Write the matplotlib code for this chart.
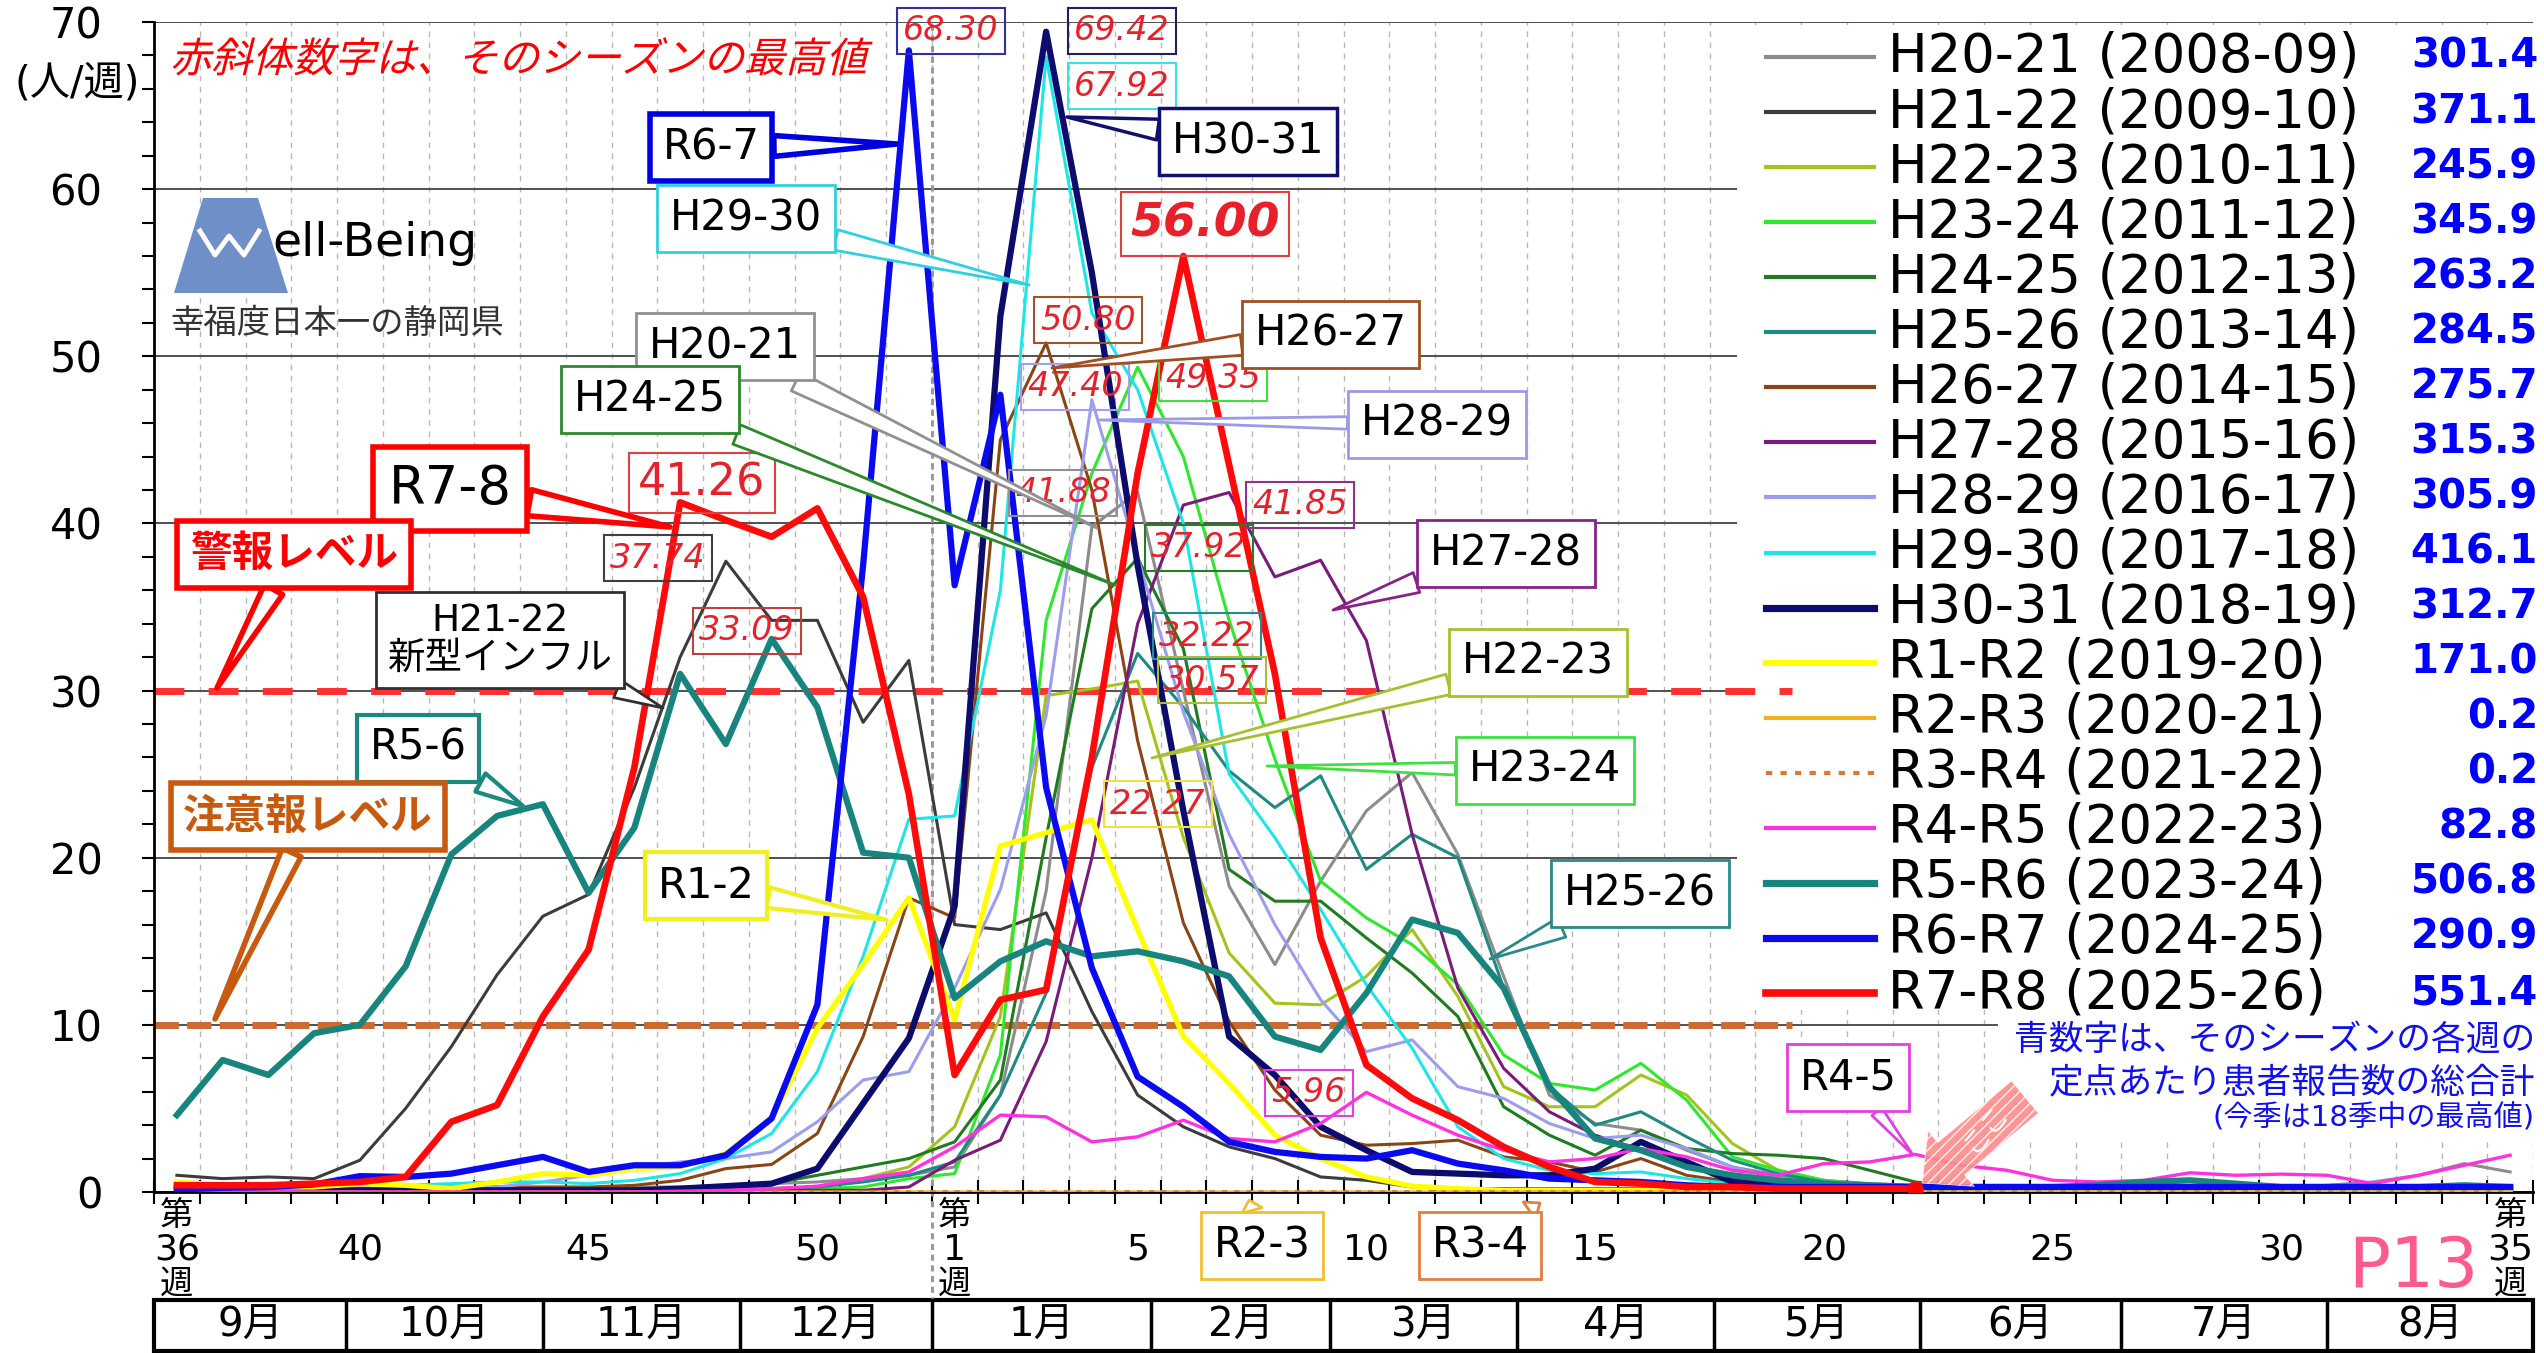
import matplotlib
matplotlib.use("Agg")
import matplotlib.pyplot as plt
from matplotlib.patches import Rectangle, Polygon, FancyArrow, PathPatch
from matplotlib.lines import Line2D
from matplotlib.textpath import TextPath
from matplotlib.font_manager import FontProperties
from matplotlib.transforms import Affine2D, IdentityTransform

plt.rcParams['font.family'] = ['DejaVu Sans', 'Noto Sans CJK JP']

# ---------------- データ ----------------
# 週（第36週～翌年第35週）
weeks = list(range(36, 53)) + list(range(1, 36))
tick_weeks = [36, 40, 45, 50, 1, 5, 10, 15, 20, 25, 30, 35]

months = ['9月', '10月', '11月', '12月', '1月', '2月', '3月', '4月', '5月', '6月', '7月', '8月']
month_edges = [0, 4.2, 8.5, 12.8, 17, 21.8, 25.7, 29.8, 34.1, 38.6, 43.0, 47.5, 52]

seasons = ['H20-21', 'H21-22', 'H22-23', 'H23-24', 'H24-25', 'H25-26', 'H26-27', 'H27-28',
           'H28-29', 'H29-30', 'H30-31', 'R1-R2', 'R2-R3', 'R3-R4', 'R4-R5', 'R5-R6',
           'R6-R7', 'R7-R8']
years = ['2008-09', '2009-10', '2010-11', '2011-12', '2012-13', '2013-14', '2014-15', '2015-16',
         '2016-17', '2017-18', '2018-19', '2019-20', '2020-21', '2021-22', '2022-23', '2023-24',
         '2024-25', '2025-26']
totals = [301.4, 371.1, 245.9, 345.9, 263.2, 284.5, 275.7, 315.3, 305.9, 416.1, 312.7,
          171.0, 0.2, 0.2, 82.8, 506.8, 290.9, 551.4]

# 定点あたり報告数（人/週）
h20_21 = [0.2, 0.2, 0.2, 0.2, 0.2, 0.2, 0.2, 0.2, 0.2, 0.2,
          0.3, 0.3, 0.4, 0.5, 0.6, 0.8, 1.0,
          1.5, 5.8, 18.0, 39.8, 41.88, 30.0, 18.3, 13.6, 18.6, 22.8,
          25.1, 20.2, 12.9, 5.8, 4.1, 3.7, 2.5, 1.5, 1.0, 0.7,
          0.5, 0.4, 0.3, 0.3, 0.3, 0.3, 0.3, 0.3, 0.3, 0.3,
          0.4, 0.6, 1.0, 1.7, 1.2]
h21_22 = [1.0, 0.8, 0.9, 0.8, 1.9, 5.0, 8.7, 13.0, 16.5, 17.8,
          24.2, 32.0, 37.74, 34.2, 34.2, 28.1, 31.8,
          16.0, 15.7, 16.7, 10.8, 5.8, 3.9, 2.7, 2.0, 0.9, 0.7,
          0.3, 0.2, 0.2, 0.2, 0.2, 0.2, 0.2, 0.1, 0.1, 0.1,
          0.1, 0.1, 0.1, 0.1, 0.1, 0.1, 0.1, 0.1, 0.1, 0.1,
          0.1, 0.1, 0.1, 0.1, 0.1]
h22_23 = [0.1, 0.1, 0.1, 0.1, 0.1, 0.1, 0.1, 0.1, 0.1, 0.1,
          0.1, 0.1, 0.1, 0.2, 0.3, 0.8, 1.5,
          3.9, 10.5, 29.7, 30.1, 30.57, 21.2, 14.3, 11.3, 11.2, 12.9,
          15.7, 11.7, 6.3, 5.1, 5.1, 7.0, 5.8, 2.9, 1.3, 0.7,
          0.4, 0.2, 0.2, 0.2, 0.2, 0.2, 0.2, 0.2, 0.2, 0.2,
          0.2, 0.2, 0.2, 0.2, 0.2]
h23_24 = [0.1, 0.1, 0.1, 0.1, 0.1, 0.1, 0.1, 0.1, 0.1, 0.1,
          0.1, 0.1, 0.1, 0.1, 0.2, 0.3, 0.8,
          1.1, 8.2, 34.2, 43.0, 49.35, 44.0, 34.2, 25.9, 18.6, 16.4,
          14.8, 12.4, 8.2, 6.5, 6.1, 7.7, 5.5, 2.1, 1.3, 0.7,
          0.4, 0.3, 0.2, 0.2, 0.2, 0.2, 0.2, 0.2, 0.2, 0.2,
          0.2, 0.2, 0.2, 0.2, 0.2]
h24_25 = [0.2, 0.2, 0.2, 0.2, 0.2, 0.2, 0.2, 0.2, 0.2, 0.2,
          0.2, 0.2, 0.3, 0.5, 1.0, 1.5, 2.0,
          3.0, 6.7, 21.2, 34.9, 37.92, 32.5, 19.3, 17.4, 17.4, 15.2,
          13.1, 10.5, 5.1, 3.4, 2.2, 3.7, 2.6, 2.3, 2.2, 2.0,
          1.3, 0.6, 0.3, 0.2, 0.2, 0.2, 0.2, 0.2, 0.2, 0.2,
          0.2, 0.2, 0.2, 0.2, 0.2]
h25_26 = [0.2, 0.2, 0.2, 0.2, 0.2, 0.2, 0.2, 0.2, 0.2, 0.2,
          0.2, 0.2, 0.2, 0.2, 0.3, 0.6, 1.0,
          1.8, 5.8, 11.9, 25.4, 32.22, 29.0, 25.2, 23.0, 24.9, 19.3,
          21.4, 20.0, 12.2, 6.3, 4.0, 4.8, 3.3, 1.9, 1.1, 0.6,
          0.4, 0.3, 0.3, 0.3, 0.3, 0.3, 0.3, 0.3, 0.3, 0.3,
          0.3, 0.3, 0.3, 0.3, 0.3]
h26_27 = [0.3, 0.3, 0.3, 0.3, 0.3, 0.3, 0.3, 0.3, 0.3, 0.3,
          0.4, 0.7, 1.4, 1.65, 3.5, 9.3, 17.6,
          16.4, 45.0, 50.80, 42.0, 27.0, 16.1, 10.2, 6.1, 3.4, 2.8,
          2.9, 3.1, 2.1, 1.8, 1.2, 2.0, 1.0, 0.6, 0.4, 0.3,
          0.3, 0.3, 0.3, 0.3, 0.3, 0.3, 0.3, 0.3, 0.3, 0.3,
          0.3, 0.3, 0.3, 0.3, 0.3]
h27_28 = [0.1, 0.1, 0.1, 0.1, 0.1, 0.1, 0.1, 0.1, 0.1, 0.1,
          0.1, 0.1, 0.1, 0.1, 0.1, 0.1, 0.3,
          1.9, 3.1, 9.0, 20.0, 34.0, 41.1, 41.85, 36.8, 37.8, 33.0,
          21.4, 12.2, 7.4, 4.8, 3.4, 2.5, 1.5, 0.8, 0.5, 0.3,
          0.3, 0.3, 0.3, 0.3, 0.3, 0.3, 0.3, 0.3, 0.3, 0.3,
          0.3, 0.3, 0.3, 0.3, 0.3]
h28_29 = [0.3, 0.3, 0.3, 0.3, 0.3, 0.3, 0.3, 0.3, 0.6, 1.0,
          1.4, 1.8, 2.0, 2.4, 4.2, 6.7, 7.2,
          12.2, 18.1, 28.5, 47.40, 38.0, 28.7, 21.4, 16.0, 11.5, 8.4,
          9.1, 6.3, 5.6, 4.1, 3.2, 3.4, 2.6, 1.5, 0.8, 0.5,
          0.4, 0.3, 0.3, 0.3, 0.3, 0.3, 0.3, 0.3, 0.3, 0.3,
          0.3, 0.3, 0.3, 0.3, 0.3]
h29_30 = [0.2, 0.2, 0.2, 0.2, 0.2, 0.4, 0.5, 0.6, 0.6, 0.5,
          0.7, 1.1, 2.0, 3.5, 7.2, 14.1, 22.3,
          22.5, 36.0, 67.92, 52.6, 48.0, 40.0, 25.0, 21.2, 16.9, 12.4,
          8.6, 3.9, 2.0, 1.3, 1.1, 1.2, 0.8, 0.5, 0.3, 0.2,
          0.2, 0.2, 0.2, 0.2, 0.2, 0.2, 0.2, 0.2, 0.2, 0.2,
          0.2, 0.2, 0.2, 0.2, 0.2]
h30_31 = [0.1, 0.1, 0.1, 0.1, 0.1, 0.1, 0.1, 0.1, 0.1, 0.1,
          0.1, 0.2, 0.35, 0.5, 1.4, 5.3, 9.2,
          17.1, 52.4, 69.42, 55.0, 37.5, 22.8, 9.3, 7.0, 3.9, 2.5,
          1.2, 1.1, 1.0, 1.0, 1.4, 3.0, 1.8, 0.6, 0.3, 0.2,
          0.1, 0.1, 0.1, 0.1, 0.1, 0.1, 0.1, 0.1, 0.1, 0.1,
          0.1, 0.1, 0.1, 0.1, 0.1]
r1_r2 = [0.6, 0.4, 0.3, 0.3, 0.5, 0.4, 0.2, 0.6, 1.1, 1.0,
         1.4, 1.5, 2.3, 4.4, 9.8, 13.6, 17.6,
         10.3, 20.7, 21.5, 22.27, 15.7, 9.3, 6.5, 3.4, 2.0, 0.9,
         0.35, 0.2, 0.1, 0.1, 0.1, 0.1, 0.1, 0.1, 0.1, 0.1,
         0.1, 0.1, 0.1, 0.1, 0.1, 0.1, 0.1, 0.0, 0.0, 0.0,
         0.0, 0.0, 0.0, 0.0, 0.0]
r2_r3 = [0.01, 0.0, 0.01, 0.0, 0.01, 0.0, 0.01, 0.0, 0.01, 0.0,
         0.01, 0.0, 0.01, 0.0, 0.01, 0.0, 0.01,
         0.0, 0.01, 0.0, 0.01, 0.0, 0.01, 0.0, 0.01, 0.0, 0.01,
         0.0, 0.01, 0.0, 0.01, 0.0, 0.01, 0.0, 0.01, 0.0, 0.0,
         0.0, 0.0, 0.0, 0.0, 0.0, 0.0, 0.0, 0.0, 0.0, 0.0,
         0.0, 0.0, 0.0, 0.0, 0.0]
r3_r4 = [0.0, 0.01, 0.0, 0.01, 0.0, 0.01, 0.0, 0.01, 0.0, 0.01,
         0.0, 0.01, 0.0, 0.01, 0.0, 0.01, 0.0,
         0.01, 0.0, 0.01, 0.0, 0.01, 0.0, 0.01, 0.0, 0.01, 0.0,
         0.01, 0.0, 0.01, 0.0, 0.01, 0.0, 0.01, 0.0, 0.0, 0.0,
         0.0, 0.0, 0.0, 0.0, 0.0, 0.0, 0.0, 0.0, 0.0, 0.0,
         0.0, 0.0, 0.0, 0.0, 0.0]
r4_r5 = [0.0, 0.0, 0.0, 0.0, 0.0, 0.0, 0.0, 0.0, 0.0, 0.0,
         0.0, 0.05, 0.1, 0.2, 0.35, 0.8, 1.2,
         2.7, 4.6, 4.5, 3.0, 3.3, 4.3, 3.2, 3.0, 4.1, 5.96,
         4.6, 3.4, 2.5, 1.8, 2.0, 2.6, 2.1, 1.3, 1.0, 1.7,
         1.8, 2.25, 1.6, 1.3, 0.7, 0.6, 0.7, 1.15, 1.0, 1.07,
         1.0, 0.5, 1.0, 1.6, 2.2]
r5_r6 = [4.6, 7.9, 7.0, 9.5, 10.0, 13.5, 20.2, 22.5, 23.2, 17.9,
         21.8, 31.0, 26.8, 33.09, 29.0, 20.3, 20.0,
         11.6, 13.8, 15.0, 14.1, 14.4, 13.8, 12.9, 9.3, 8.5, 11.9,
         16.3, 15.5, 12.2, 6.3, 3.2, 2.5, 1.5, 1.0, 0.7, 0.5,
         0.4, 0.3, 0.3, 0.3, 0.3, 0.4, 0.6, 0.7, 0.5, 0.3,
         0.3, 0.3, 0.3, 0.4, 0.3]
r6_r7 = [0.15, 0.25, 0.3, 0.45, 0.95, 0.9, 1.1, 1.6, 2.1, 1.2,
         1.6, 1.6, 2.2, 4.4, 11.2, 37.5, 68.30,
         36.3, 47.7, 24.2, 13.4, 6.9, 5.1, 3.0, 2.4, 2.1, 2.0,
         2.5, 1.7, 1.3, 0.8, 0.7, 0.6, 0.4, 0.3, 0.3, 0.3,
         0.3, 0.3, 0.3, 0.3, 0.3, 0.3, 0.3, 0.3, 0.3, 0.3,
         0.3, 0.3, 0.3, 0.3, 0.3]
r7_r8 = [0.4, 0.4, 0.4, 0.5, 0.6, 0.9, 4.2, 5.2, 10.5, 14.5,
         25.4, 41.26, 40.2, 39.2, 40.9, 35.6, 23.8,
         7.0, 11.5, 12.1, 26.0, 43.0, 56.00, 43.5, 31.0, 15.2, 7.6,
         5.6, 4.3, 2.7, 1.5, 0.6, 0.5, 0.3, 0.3, 0.2, 0.2,
         0.2, 0.2]

values = [h20_21, h21_22, h22_23, h23_24, h24_25, h25_26, h26_27, h27_28, h28_29,
          h29_30, h30_31, r1_r2, r2_r3, r3_r4, r4_r5, r5_r6, r6_r7, r7_r8]

colors = ['#8c8c8c', '#3c3c3c', '#a4c41c', '#2ee82e', '#1e7b1e', '#1f8a84', '#8b4513',
          '#7a1a7a', '#9d9df0', '#1ee6e6', '#0c0c6e', '#ffff00', '#f2b01e', '#e07830',
          '#ff30e0', '#17857d', '#0a0af0', '#ff0a0a']
widths = [2.2, 2.2, 2.2, 2.2, 2.2, 2.2, 2.2, 2.2, 2.2, 2.2, 4.5, 3.8, 2.2, 2.5, 2.4,
          4.5, 4.5, 4.8]
styles = ['-', '-', '-', '-', '-', '-', '-', '-', '-', '-', '-', '-', '-', (0, (1.5, 2)),
          '-', '-', '-', '-']

# ---------------- 図 ----------------
W, H = 2544, 1353
fig = plt.figure(figsize=(W / 100, H / 100), dpi=100)
X0, X1, Y0, Y1 = 154, 2533, 1192, 22
ax = fig.add_axes([X0 / W, 1 - Y0 / H, (X1 - X0) / W, (Y0 - Y1) / H])
ax.set_xlim(0, 52)
ax.set_ylim(0, 70)


def px(x, y):
    # 画像のピクセル位置 -> データ座標
    return (x - X0) / (X1 - X0) * 52, (Y0 - y) / (Y0 - Y1) * 70


def fpos(x, y):
    return x / W, 1 - y / H


def yfrac(y):
    return (Y0 - y) / (Y0 - Y1)


for s in ['top', 'right']:
    ax.spines[s].set_visible(False)
for s in ['left', 'bottom']:
    ax.spines[s].set_linewidth(2)

ax.set_xticks(range(53))
ax.set_xticklabels([])
ax.tick_params(axis='x', direction='inout', length=17, width=1.5)
ax.set_yticks(range(0, 71, 10))
ax.set_yticks(range(0, 71, 2), minor=True)
ax.tick_params(axis='y', which='both', direction='out', length=9, width=1.5,
               labelsize=30, pad=28)
ax.grid(axis='x', color='#b8b8b8', ls=(0, (4, 4)), lw=1.0)
ax.grid(axis='y', color='#505050', lw=1.4)
ax.set_axisbelow(True)

# 第1週の区切り線
ax.axvline(weeks.index(1), ymin=-0.095, ymax=1, color='#9a9a9a', ls=(0, (2, 1.5)),
           lw=2.2, clip_on=False, zorder=2)

# 凡例・注記の白地
ax.add_patch(Rectangle((34.6, 10.9), 18, 58.9, fc='white', ec='none', zorder=2,
                       clip_on=False))
ax.add_patch(Rectangle((40.3, 3.1), 12, 7.8, fc='white', ec='none', zorder=2,
                       clip_on=False))

# 警報・注意報レベル
ax.plot([0, 35.8], [30, 30], color='#ff3030', lw=5, ls=(0, (4.3, 3.5)), zorder=2.5)
ax.plot([0, 35.8], [10, 10], color='#cc6a30', lw=5, ls=(0, (3.5, 1.2)), zorder=2.5)

# 各シーズン
for k, v in enumerate(values):
    xs = [i + 0.5 for i in range(len(v))]
    ax.plot(xs, v, color=colors[k], lw=widths[k], ls=styles[k], zorder=3 + k * 0.01)

# 今週の位置
ax.plot(len(r7_r8) - 0.5, r7_r8[-1], 'o', color='#ff0000', ms=11, zorder=6)

# x軸ラベル
xt = ax.get_xaxis_transform()
for w in tick_weeks:
    x = weeks.index(w) + 0.5
    ax.text(x, yfrac(1250), str(w), transform=xt, ha='center', va='center', fontsize=26)
    if w in (36, 1, 35):
        ax.text(x, yfrac(1216), '第', transform=xt, ha='center', va='center', fontsize=24)
        ax.text(x, yfrac(1284), '週', transform=xt, ha='center', va='center', fontsize=24)

# 月の表
yb, yt = yfrac(1351), yfrac(1300)
ax.add_patch(Rectangle((0, yb), 52, yt - yb, transform=xt, fill=False, lw=3,
                       ec='black', clip_on=False))
for e in month_edges[1:-1]:
    ax.plot([e, e], [yb, yt], transform=xt, color='black', lw=2.5, clip_on=False)
for k, m in enumerate(months):
    mx = (month_edges[k] + month_edges[k + 1]) / 2
    ax.text(mx, (yb + yt) / 2, m, transform=xt, ha='center', va='center', fontsize=29)


# 吹き出し
def callout(text, box, tip, ec, fs=30, lw=2, color='black', weight='normal', tw=0.5):
    ax.annotate(text, xy=px(*tip), xytext=px(*box), ha='center', va='center',
                fontsize=fs, color=color, weight=weight, zorder=12,
                annotation_clip=False, linespacing=1.05,
                bbox=dict(boxstyle='square,pad=0.3', fc='white', ec=ec, lw=lw),
                arrowprops=dict(arrowstyle=f'wedge,tail_width={tw}', fc='white', ec=ec,
                                lw=lw, shrinkA=0, shrinkB=0))


callout('R6-7', (711, 147), (897, 144), '#0000dd', lw=4)
callout('H29-30', (746, 219), (1029, 285), '#30d0e0')
callout('H20-21', (725, 347), (1097, 528), '#909090')
callout('H24-25', (650, 400), (1115, 585), '#2a8a2a')
callout('R7-8', (450, 489), (670, 527), '#ff0000', fs=38, lw=4)
callout('H21-22\n新型インフル', (500, 640), (663, 708), '#303030', fs=27)
callout('R5-6', (418, 748), (523, 806), '#1a8a80', lw=3)
callout('R1-2', (706, 886), (887, 920), '#f0f020', lw=3)
callout('H30-31', (1248, 142), (1067, 117), '#101070', lw=2.5)
callout('H26-27', (1331, 334), (1052, 368), '#a05020')
callout('H28-29', (1437, 424), (1100, 420), '#9a9ae8', tw=0.3)
callout('H27-28', (1506, 553), (1333, 610), '#882288')
callout('H22-23', (1538, 662), (1152, 758), '#a8c030')
callout('H23-24', (1545, 770), (1267, 766), '#40e040', tw=0.3)
callout('H25-26', (1640, 893), (1490, 959), '#2a8a8a')
callout('R4-5', (1848, 1077), (1913, 1155), '#e040e0', tw=0.3)
callout('R2-3', (1262, 1245), (1249, 1200), '#f0c030')
callout('R3-4', (1480, 1245), (1540, 1203), '#e08040')
callout('警報レベル', (294, 554), (217, 688), '#ff0000', lw=4, color='#ff0000',
        weight='bold')
callout('注意報レベル', (308, 817), (215, 1019), '#c85a10', lw=4, color='#c85a10',
        weight='bold')


# シーズン最高値
def peak(val, box, ec, fs=24, weight='normal', style='italic'):
    ax.text(*px(*box), f'{val:.2f}', ha='center', va='center', fontsize=fs,
            color='#e8202a', style=style, weight=weight, zorder=11,
            bbox=dict(boxstyle='square,pad=0.2', fc='none', ec=ec, lw=1.5))


peak(max(r6_r7), (951, 31), '#3030a0')
peak(max(h30_31), (1122, 31), '#202060')
peak(max(h29_30), (1122, 86), '#40e0e0')
peak(max(r7_r8), (1205, 224), '#e04040', fs=34, weight='bold')
peak(max(h26_27), (1088, 320), '#a0522d')
peak(max(h28_29), (1075, 387), '#a0a0f0')
peak(max(h23_24), (1213, 378), '#40e040')
peak(max(h20_21), (1063, 493), '#909090')
peak(max(h27_28), (1300, 505), '#903090')
peak(max(r7_r8[:17]), (702, 483), '#e04040', fs=32, style='normal')
peak(max(h21_22), (658, 558), '#404040')
peak(max(h24_25), (1199, 548), '#2a7a2a')
peak(max(r5_r6), (747, 631), '#c04040')
peak(max(h25_26), (1207, 636), '#2a8a8a')
peak(max(h22_23), (1212, 680), '#a8c030')
peak(max(r1_r2), (1158, 804), '#f0e040')
peak(max(r4_r5), (1309, 1093), '#e040e0')

# 凡例
for k in range(len(seasons)):
    yy = 57 + 55.06 * k
    fx0, fy0 = fpos(1766, yy)
    fx1, _ = fpos(1874, yy)
    fig.add_artist(Line2D([fx0, fx1], [fy0, fy0], color=colors[k],
                          lw=max(widths[k], 2.6) * 1.15, ls=styles[k]))
    fig.text(*fpos(1888, yy), f'{seasons[k]} ({years[k]})', ha='left', va='center',
             fontsize=38)
    fig.text(*fpos(2538, yy), f'{totals[k]:.1f}', ha='right', va='center', fontsize=29,
             color='#0000ff', weight='bold')

# 注記
fig.text(*fpos(2535, 1040), '青数字は、そのシーズンの各週の', ha='right', va='center',
         fontsize=25, color='#1010ee')
fig.text(*fpos(2535, 1082), '定点あたり患者報告数の総合計', ha='right', va='center',
         fontsize=25, color='#1010ee')
fig.text(*fpos(2535, 1118), '(今季は18季中の最高値)', ha='right', va='center',
         fontsize=21, color='#1010ee')

# タイトル（斜体）
fp = FontProperties(family='Noto Sans CJK JP')
tp = TextPath((0, 0), '赤斜体数字は、そのシーズンの最高値', prop=fp, size=41)
fig.add_artist(PathPatch(tp, fc='#ff0000', ec='none',
                         transform=Affine2D().skew_deg(14, 0).translate(170, H - 72)))

fig.text(*fpos(77, 84), '(人/週)', ha='center', va='center', fontsize=29)
fig.text(*fpos(2413, 1268), 'P13', ha='center', va='center', fontsize=50,
         color='#ff5a8c')

# ロゴ
fig.add_artist(Polygon([fpos(174, 293), fpos(288, 293), fpos(258, 198), fpos(203, 198)],
                       closed=True, fc='#6f8fc8', ec='none'))
wx = [200, 215, 229, 244, 259]
wy = [231, 255, 236, 255, 231]
fig.add_artist(Line2D([x / W for x in wx], [1 - y / H for y in wy], color='white', lw=3.5))
fig.text(*fpos(272, 243), 'ell-Being', ha='left', va='center', fontsize=34)
fig.text(*fpos(170, 323), '幸福度日本一の静岡県', ha='left', va='center', fontsize=24,
         color='#333333')

# 「ここ」矢印
fig.add_artist(FancyArrow(2025, H - 1097, -103, -86, width=42, head_width=72,
                          head_length=38, length_includes_head=True,
                          transform=IdentityTransform(), fc='#ff8a8a', ec='white',
                          hatch='///', lw=0.5, alpha=0.9))
fig.text(1985 / W, 1 - 1128 / H, 'ここ', ha='center', va='center', fontsize=20,
         color='white', rotation=50)

fig.savefig('out.png', dpi=100)
